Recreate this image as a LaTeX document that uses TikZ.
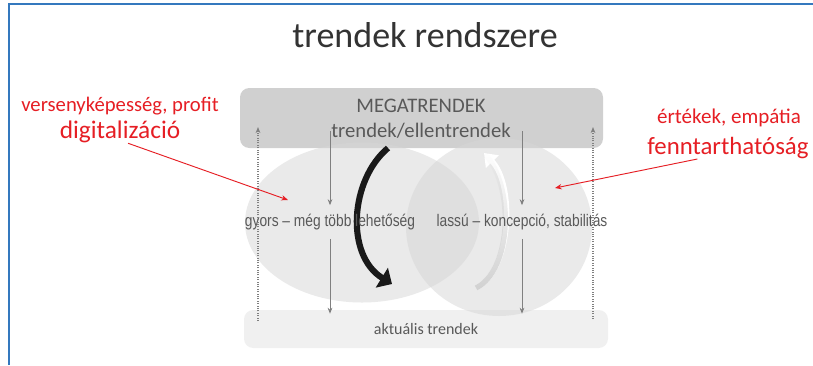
\documentclass[tikz,border=0pt]{standalone}
\usepackage{fontspec}
\setmainfont{Carlito}
\newfontfamily\narrowfont[FakeStretch=0.82]{Liberation Sans}
\usetikzlibrary{positioning,calc,arrows.meta,shapes,fadings}

\definecolor{frameblue}{RGB}{52,120,190}
\definecolor{txtgray}{RGB}{89,89,89}
\definecolor{boxgray}{RGB}{208,208,208}
\definecolor{basegray}{RGB}{240,240,240}
\definecolor{ovalgray}{RGB}{214,214,214}
\definecolor{hotred}{RGB}{230,30,36}

\tikzfading[name=fade up, top color=transparent!100, middle color=transparent!100, bottom color=transparent!10]

\begin{document}
\begin{tikzpicture}[x=0.75pt,y=-0.75pt,
	box/.style={rounded corners=7pt, inner sep=0pt},
	oval/.style={ellipse, fill=ovalgray, fill opacity=0.5, inner sep=0pt},
	label/.style={text=txtgray, inner sep=0pt},
	flow/.style={draw=gray, line width=0.7pt, -{Stealth[length=4.5pt,width=3.5pt]}},
	feedback/.style={draw=gray, line width=0.8pt, densely dotted, -{Stealth[length=4.5pt,width=3.5pt]}},
	note/.style={text=hotred, inner sep=0pt},
	pointer/.style={draw=hotred, line width=0.7pt, -{Stealth[length=5pt,width=4pt]}}]

	\fill[white] (0,0) rectangle (813,365);
	\useasboundingbox (0,0) rectangle (813,365);
	\draw[frameblue, line width=1.3pt] (9,365) -- (9,4) -- (813,4);

	\node[font=\fontsize{27}{32}\selectfont, text=black!80] (title) at (425,35) {trendek rendszere};

	% boxes
	\node[box, fill=boxgray, minimum width=272.25pt, minimum height=45pt] (megabox) at (421.5,118) {};
	\node[box, fill=basegray, minimum width=273pt, minimum height=28.5pt] (aktual) at (426,329) {};

	\node[oval, minimum width=175.5pt, minimum height=120pt] (fast) at (362,222.5) {};
	\node[oval, minimum width=139.5pt, minimum height=133.5pt] (slow) at (499,227) {};

	\node[label, font=\fontsize{15.5}{18}\selectfont] (megatext) at (421,106) {MEGATRENDEK};
	\node[label, font=\fontsize{15.5}{18}\selectfont] (ellen) at (421,131) {trendek/ellentrendek};
	\node[label, font=\fontsize{12}{14}\selectfont] (aktualtext) at (aktual) {aktuális trendek};

	% curved arrows
	\draw[line width=4.6pt, black!90, -{Triangle[length=9pt,width=17pt]}] (388,148) .. controls (350,180) and (345,255) .. (392,284);
	\draw[line width=4pt, white, -{Triangle[length=9pt,width=13pt]}] (476,288) .. controls (512,270) and (515,185) .. (484,153);
	\draw[line width=4pt, gray!40, path fading=fade up] (476,288) .. controls (512,270) and (515,185) .. (484,153);

	\node[label, font=\narrowfont\fontsize{12.6}{15}\selectfont, minimum height=24.75pt] (gyors) at (330,222) {gyors – még több lehetőség};
	\node[label, font=\narrowfont\fontsize{12.6}{15}\selectfont, minimum height=24.75pt] (lassu) at (522,222) {lassú – koncepció, stabilitás};

	% flows
	\draw[flow] (gyors |- ellen.center) -- (gyors.north);
	\draw[flow] (gyors.south) -- ([yshift=-3pt]gyors |- aktual.north);
	\draw[flow] (lassu |- ellen.center) -- (lassu.north);
	\draw[flow] (lassu.south) -- ([yshift=-3pt]lassu |- aktual.north);

	\coordinate (upl-bot) at (258,321);
	\coordinate (upl-top) at (258,127);
	\coordinate (upr-bot) at (593,319);
	\coordinate (upr-top) at (593,127);
	\draw[feedback] (upl-bot) -- (upl-top);
	\draw[feedback] (upr-bot) -- (upr-top);

	% notes
	\node[note, font=\fontsize{15.5}{18}\selectfont] (versenyk) at (120,106) {versenyképesség, profit};
	\node[note, font=\fontsize{19}{22}\selectfont] (digit) at (120,132) {digitalizáció};
	\node[note, font=\fontsize{15.75}{18}\selectfont] (ertekek) at (729,118) {értékek, empátia};
	\node[note, font=\fontsize{18.6}{22}\selectfont] (fennt) at (728,148) {fenntarthatóság};

	\coordinate (fastpt) at (288,200);
	\coordinate (slowpt) at (555,188);
	\draw[pointer] ([xshift=6pt]digit.south) -- (fastpt);
	\draw[pointer] ([xshift=-23pt]fennt.south) -- (slowpt);
\end{tikzpicture}
\end{document}
